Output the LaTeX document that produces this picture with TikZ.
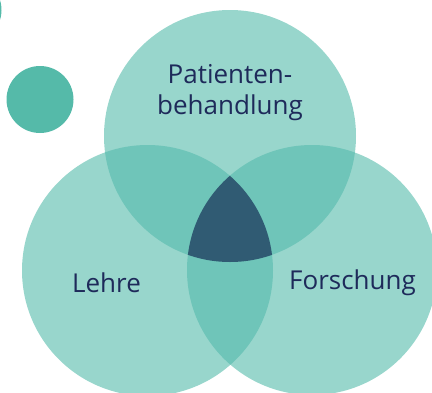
\documentclass[tikz,border=0pt]{standalone}
\usepackage{fontspec}
\setmainfont{Open Sans}
\definecolor{onefield}{HTML}{98D6CC}
\definecolor{twofield}{HTML}{6FC5B9}
\definecolor{corefield}{HTML}{305B73}
\definecolor{dotcolor}{HTML}{55BAA9}
\definecolor{ink}{HTML}{1E2A5A}
\begin{document}
\begin{tikzpicture}[x=1pt,y=-1pt,
  fieldlabel/.style={text=ink,font=\fontsize{26}{31}\selectfont,align=center,inner sep=0pt}]
\useasboundingbox (0,0) rectangle (432,392);
\clip (0,0) rectangle (432,392);
% the three fields
\def\topC{(230,136) circle[radius=126]}
\def\leftC{(147.5,270.5) circle[radius=125.5]}
\def\rightC{(312,270) circle[radius=125]}
\fill[onefield] \topC;
\fill[onefield] \leftC;
\fill[onefield] \rightC;
% pairwise overlaps
\begin{scope}\clip \topC; \fill[twofield] \leftC; \fill[twofield] \rightC; \end{scope}
\begin{scope}\clip \leftC; \fill[twofield] \rightC; \end{scope}
% common core
\begin{scope}\clip \topC; \clip \leftC; \fill[corefield] \rightC; \end{scope}
% decorative dots
\fill[dotcolor] (40,99.5) circle[radius=33.5];
\fill[dotcolor] (-32,10) circle[radius=33.5];
% labels
\node[fieldlabel] (pat) at (230,93) {Patienten-\\behandlung};
\node[fieldlabel] (leh) at (106.5,283) {Lehre};
\node[fieldlabel] (for) at (352.5,283) {Forschung};
\end{tikzpicture}
\end{document}
